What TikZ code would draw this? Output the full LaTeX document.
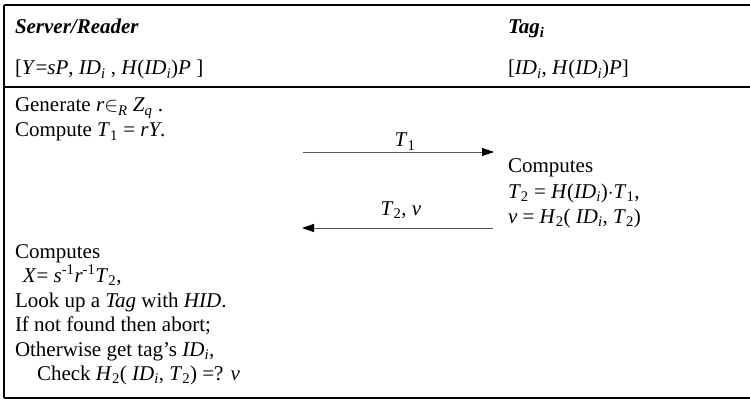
\documentclass[tikz,border=0pt]{standalone}
\usepackage{fontspec}
\setmainfont{Liberation Serif}
\usetikzlibrary{arrows.meta}
\newcommand{\ti}[1]{\textit{#1}}
\newcommand{\sbs}[1]{\textsubscript{#1}}
\newcommand{\sps}[1]{\textsuperscript{#1}}
\tikzset{
  txt/.style={anchor=base west, inner sep=0pt, outer sep=0pt, text=black, font=\fontsize{21pt}{24.5pt}\selectfont},
  lbl/.style={anchor=base, inner sep=0pt, outer sep=0pt, text=black, font=\fontsize{21pt}{24.5pt}\selectfont},
  rule/.style={line width=2pt, black},
  msg/.style={line width=0.9pt, black!65, -{Triangle[length=12pt,width=8pt,fill=black,color=black]}}
}
\begin{document}
\begin{tikzpicture}[x=1pt,y=-1pt]
\useasboundingbox (0,0) rectangle (750,401);
% frame lines
\coordinate (tl) at (4,5);
\coordinate (tr) at (750,5);
\coordinate (ml) at (4,87);
\coordinate (mr) at (750,87);
\coordinate (bl) at (4,398);
\coordinate (br) at (750,398);
\draw[rule] (tl) -- (tr);
\draw[rule] (ml) -- (mr);
\draw[rule] (bl) -- (br);
\draw[rule] (tl) -- (bl);
% headers
\node[txt] (srv) at (15,34) {\textbf{\textit{Server/Reader}}};
\node[txt] (tag) at (508,34) {\textbf{\textit{Tag\sbs{i}}}};
\node[txt] (srvk) at (15,75) {[\ti{Y}=\ti{sP}, \ti{ID\sbs{i}} , \ti{H}(\ti{ID\sbs{i}})\ti{P} ]};
\node[txt] (tagk) at (508,75) {[\ti{ID\sbs{i}}, \ti{H}(\ti{ID\sbs{i}})\ti{P}]};
% left steps
\node[txt] (gen) at (15,112) {Generate \ti{r}$\in$\sbs{\ti{R}} \ti{Z}\sbs{\ti{q}} .};
\node[txt] (cmp) at (15,137) {Compute \ti{T}\sbs{1} = \ti{rY}.};
% right steps
\node[txt] (tc) at (508,173) {Computes};
\node[txt] (tt2) at (508,198) {\ti{T}\sbs{2} = \ti{H}(\ti{ID\sbs{i}})$\cdot$\ti{T}\sbs{1},};
\node[txt] (tv) at (508,223) {\ti{v} = \ti{H}\sbs{2}( \ti{ID\sbs{i}}, \ti{T}\sbs{2})};
% messages
\coordinate (m1s) at (303,152);
\coordinate (m1e) at (494,152);
\coordinate (m2s) at (493,228);
\coordinate (m2e) at (302,228);
\draw[msg] (m1s) -- (m1e);
\draw[msg] (m2s) -- (m2e);
\node[lbl] (l1) at (405,147) {\ti{T}\sbs{1}};
\node[lbl] (l2) at (401,215) {\ti{T}\sbs{2}, \ti{v}};
% left final steps
\node[txt] (sc) at (15,258) {Computes};
\node[txt] (sx) at (23,282) {\ti{X}= \ti{s}\sps{-1}\ti{r}\sps{-1}\ti{T}\sbs{2},};
\node[txt] (sl) at (15,307) {Look up a \ti{Tag} with \ti{HID}.};
\node[txt] (sf) at (15,331) {If not found then abort;};
\node[txt] (so) at (15,356) {Otherwise get tag’s \ti{ID\sbs{i}},};
\node[txt] (sk) at (37,380) {Check \ti{H}\sbs{2}( \ti{ID\sbs{i}}, \ti{T}\sbs{2}) =? \ti{v}};
\end{tikzpicture}
\end{document}
